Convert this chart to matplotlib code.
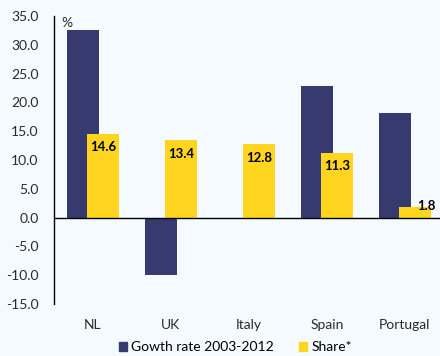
import numpy as np
import matplotlib.pyplot as plt
from matplotlib.patches import Patch

plt.rcParams['font.family'] = ['Lato', 'DejaVu Sans']

countries = ["NL", "UK", "Italy", "Spain", "Portugal"]
growth = [32.5, -9.9, 0.0, 22.9, 18.2]
share = [14.6, 13.4, 12.8, 11.3, 1.8]

navy = "#363A6E"
yellow = "#FFD520"
bg = "#F5FAFE"

fig = plt.figure(figsize=(4.4, 3.56), dpi=100, facecolor=bg)
ax = fig.add_axes([54 / 440, 0.146, 1 - 54 / 440, 0.955 - 0.146])
ax.set_facecolor(bg)

x = np.arange(len(countries))
ax.bar(x - 0.128, growth, width=0.42, color=navy, zorder=2)
ax.bar(x + 0.128, share, width=0.42, color=yellow, zorder=3)

# value labels on the share bars
for i, v in enumerate(share):
    if v > 5:
        ax.text(i + 0.13, v - 2.4, f"{v:.1f}", ha="center", va="center",
                fontsize=9.5, fontweight="bold", color="black", zorder=4)
    else:
        ax.text(i + 0.27, v + 0.3, f"{v:.1f}", ha="center", va="center",
                fontsize=9.5, fontweight="bold", color="black", zorder=4)

ax.set_xlim(-0.5, 4.45)
ax.set_ylim(-15, 35)
ax.set_yticks(np.arange(-15, 36, 5))
ax.set_yticklabels([f"{t:.1f}" for t in np.arange(-15, 36, 5)])
ax.set_xticks(x)
ax.set_xticklabels(countries)
ax.tick_params(axis="both", length=0, labelsize=10, colors="#2a2a2a")
ax.tick_params(axis="y", pad=11)
ax.tick_params(axis="x", pad=11)

for s in ["top", "right", "bottom"]:
    ax.spines[s].set_visible(False)
ax.spines["left"].set_color("black")
ax.spines["left"].set_linewidth(1)
ax.axhline(0, color="black", lw=1, zorder=5)

ax.text(0.02, 0.995, "%", transform=ax.transAxes, ha="left", va="top",
        fontsize=10, color="#2a2a2a")

handles = [Patch(color=navy, label="Gowth rate 2003-2012"),
           Patch(color=yellow, label="Share*")]
fig.legend(handles=handles, loc="center", bbox_to_anchor=(0.535, 0.025),
           ncol=2, frameon=False, fontsize=10, handlelength=0.6,
           handleheight=0.6, handletextpad=0.3, columnspacing=1.8)

fig.savefig("out.png", dpi=100, facecolor=bg)
